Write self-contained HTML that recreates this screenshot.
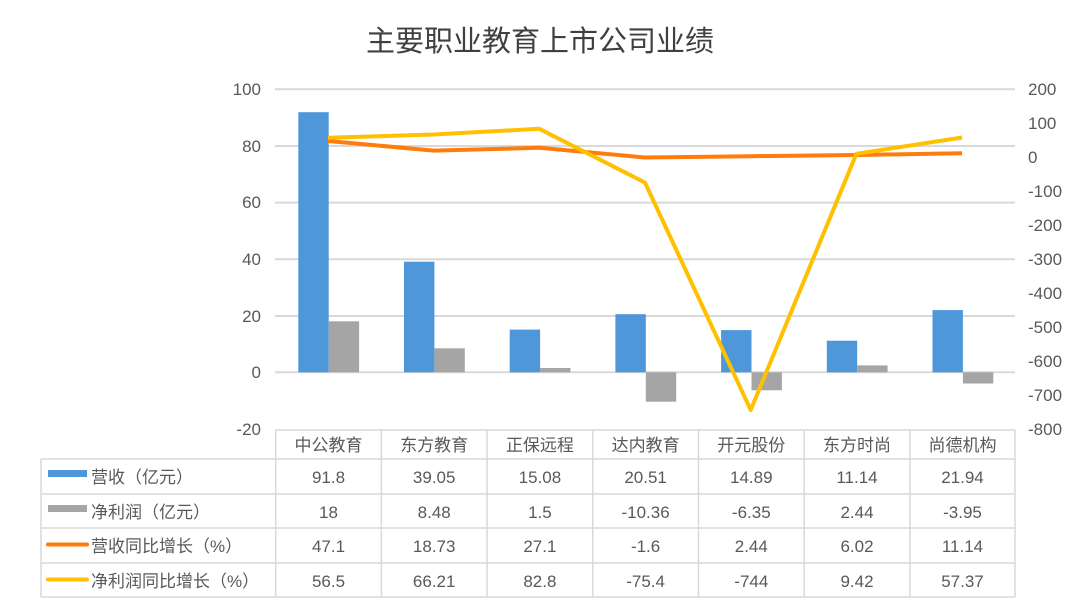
<!DOCTYPE html>
<html><head><meta charset="utf-8"><style>
body{margin:0;background:#fff;}
svg{display:block;font-family:"Liberation Sans","Noto Sans CJK SC",sans-serif;}
</style></head><body>
<svg width="1080" height="606" viewBox="0 0 1080 606">
<text x="540" y="51" font-size="29" fill="#404040" text-anchor="middle">主要职业教育上市公司业绩</text>
<g stroke="#d9d9d9" stroke-width="2">
<line x1="275" x2="1015" y1="89.3" y2="89.3"/>
<line x1="275" x2="1015" y1="146" y2="146"/>
<line x1="275" x2="1015" y1="202.6" y2="202.6"/>
<line x1="275" x2="1015" y1="259.3" y2="259.3"/>
<line x1="275" x2="1015" y1="316" y2="316"/>
<line x1="275" x2="1015" y1="372.3" y2="372.3"/>
</g>
<g font-size="17" fill="#595959" text-anchor="end">
<text x="261" y="95">100</text><text x="261" y="152">80</text><text x="261" y="208">60</text>
<text x="261" y="265">40</text><text x="261" y="322">20</text><text x="261" y="378">0</text><text x="261" y="435">-20</text>
</g>
<g font-size="17" fill="#595959">
<text x="1028" y="95">200</text><text x="1028" y="129">100</text><text x="1028" y="163">0</text>
<text x="1028" y="197">-100</text><text x="1028" y="231">-200</text><text x="1028" y="265">-300</text>
<text x="1028" y="299">-400</text><text x="1028" y="333">-500</text><text x="1028" y="367">-600</text>
<text x="1028" y="401">-700</text><text x="1028" y="435">-800</text>
</g>
<g fill="#4e97d9">
<rect x="298.3" y="112.2" width="30.4" height="260.1"/>
<rect x="404" y="261.7" width="30.4" height="110.6"/>
<rect x="509.7" y="329.6" width="30.4" height="42.7"/>
<rect x="615.4" y="314.2" width="30.4" height="58.1"/>
<rect x="721.1" y="330.1" width="30.4" height="42.2"/>
<rect x="826.8" y="340.7" width="30.4" height="31.6"/>
<rect x="932.5" y="310.1" width="30.4" height="62.2"/>
</g>
<g fill="#a5a5a5">
<rect x="328.7" y="321.3" width="30.4" height="51"/>
<rect x="434.4" y="348.3" width="30.4" height="24"/>
<rect x="540.1" y="368" width="30.4" height="4.3"/>
<rect x="645.8" y="372.3" width="30.4" height="29.4"/>
<rect x="751.5" y="372.3" width="30.4" height="18"/>
<rect x="857.2" y="365.4" width="30.4" height="6.9"/>
<rect x="962.9" y="372.3" width="30.4" height="11.2"/>
</g>
<polyline fill="none" stroke="#ff7c0a" stroke-width="4" stroke-linejoin="round" points="328,141 433.6,150.6 539.3,147.8 645,157.5 750.7,156.2 856.4,155 962.1,153.2"/>
<polyline fill="none" stroke="#ffc000" stroke-width="4" stroke-linejoin="round" points="328,137.8 433.6,134.5 539.3,128.8 645,182.6 750.7,410 856.4,153.8 962.1,137.5"/>
<g stroke="#d9d9d9" stroke-width="1.5" fill="none">
<line x1="275.7" x2="1015" y1="430" y2="430"/>
<line x1="41" x2="1015" y1="459" y2="459"/>
<line x1="41" x2="1015" y1="494" y2="494"/>
<line x1="41" x2="1015" y1="528" y2="528"/>
<line x1="41" x2="1015" y1="563" y2="563"/>
<line x1="41" x2="1015" y1="597" y2="597"/>
<line x1="41" x2="41" y1="459" y2="597"/>
<line x1="275.7" x2="275.7" y1="430" y2="597"/>
<line x1="381.4" x2="381.4" y1="430" y2="597"/>
<line x1="487.1" x2="487.1" y1="430" y2="597"/>
<line x1="592.8" x2="592.8" y1="430" y2="597"/>
<line x1="698.5" x2="698.5" y1="430" y2="597"/>
<line x1="804.2" x2="804.2" y1="430" y2="597"/>
<line x1="909.9" x2="909.9" y1="430" y2="597"/>
<line x1="1015" x2="1015" y1="430" y2="597"/>
</g>
<rect x="48" y="470" width="39" height="7" fill="#4e97d9"/>
<rect x="48" y="505" width="39" height="7" fill="#a5a5a5"/>
<line x1="48" x2="87" y1="544.5" y2="544.5" stroke="#ff7c0a" stroke-width="4" stroke-linecap="round"/>
<line x1="48" x2="87" y1="579.5" y2="579.5" stroke="#ffc000" stroke-width="4" stroke-linecap="round"/>
<g font-size="17" fill="#595959">
<text x="91" y="483">营收（亿元）</text>
<text x="91" y="518">净利润（亿元）</text>
<text x="91" y="552">营收同比增长（%）</text>
<text x="91" y="587">净利润同比增长（%）</text>
</g>
<g font-size="17" fill="#595959" text-anchor="middle">
<text x="328.5" y="451">中公教育</text><text x="434.2" y="451">东方教育</text><text x="539.9" y="451">正保远程</text><text x="645.6" y="451">达内教育</text><text x="751.3" y="451">开元股份</text><text x="857" y="451">东方时尚</text><text x="962.5" y="451">尚德机构</text>
<text x="328.5" y="483">91.8</text><text x="434.2" y="483">39.05</text><text x="539.9" y="483">15.08</text><text x="645.6" y="483">20.51</text><text x="751.3" y="483">14.89</text><text x="857" y="483">11.14</text><text x="962.5" y="483">21.94</text>
<text x="328.5" y="518">18</text><text x="434.2" y="518">8.48</text><text x="539.9" y="518">1.5</text><text x="645.6" y="518">-10.36</text><text x="751.3" y="518">-6.35</text><text x="857" y="518">2.44</text><text x="962.5" y="518">-3.95</text>
<text x="328.5" y="552">47.1</text><text x="434.2" y="552">18.73</text><text x="539.9" y="552">27.1</text><text x="645.6" y="552">-1.6</text><text x="751.3" y="552">2.44</text><text x="857" y="552">6.02</text><text x="962.5" y="552">11.14</text>
<text x="328.5" y="587">56.5</text><text x="434.2" y="587">66.21</text><text x="539.9" y="587">82.8</text><text x="645.6" y="587">-75.4</text><text x="751.3" y="587">-744</text><text x="857" y="587">9.42</text><text x="962.5" y="587">57.37</text>
</g>
</svg>
</body></html>
